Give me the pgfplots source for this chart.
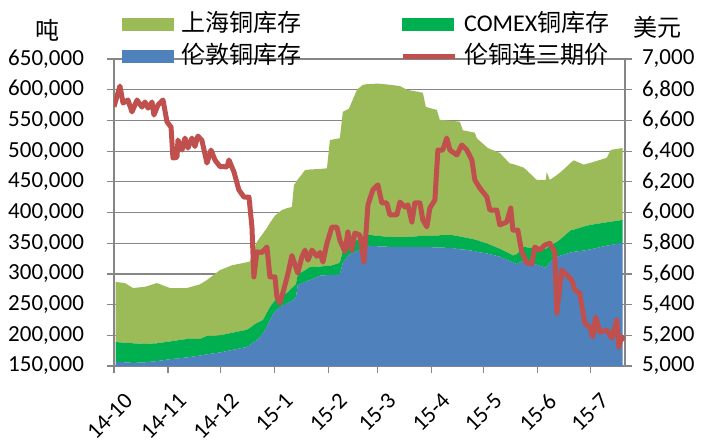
\documentclass[border=0pt]{standalone}
\usepackage{fontspec}
\setmainfont{Carlito}
\newfontfamily\cjk{Noto Sans CJK SC}
\usepackage{pgfplots}
\usepackage{pgfplotstable}
\pgfplotsset{compat=1.18}

\definecolor{shfe}{HTML}{9BBB59}
\definecolor{comex}{HTML}{00B050}
\definecolor{lme}{HTML}{4F81BD}
\definecolor{cuprice}{HTML}{C0504D}
\definecolor{gridgray}{HTML}{868686}

% days since 2014-10-01, stocks in tonnes
\pgfplotstableread{
d lme comex shfe
1.0 157000 32000 98000
6.3 156000 32000 97000
10.9 155000 32000 90000
17.8 156000 30000 93000
24.6 158000 29000 98000
32.1 161000 29000 87000
41.8 164000 30000 83000
49.3 167000 27000 89000
53.3 169000 30000 91000
57.9 171000 28000 101000
60.7 172000 28000 106000
67.6 176000 28000 110000
76.2 181000 28000 110000
77.9 184000 28000 108000
80.2 189000 28000 123000
81.9 192000 28000 132000
85.4 203000 22000 141000
87.7 214000 23000 138000
89.4 225000 21000 137000
92.3 239000 18000 138000
96.3 248000 16000 140000
99.1 252000 17000 138000
102.0 256000 21000 132000
103.2 259000 21000 165000
104.3 262000 21000 166000
105.4 282000 18000 154000
106.6 283000 18000 157000
109.5 287000 19000 163000
112.3 290000 21000 159000
118.1 297000 15000 159000
122.1 298000 15000 159000
123.8 298000 15000 205000
129.5 299000 19000 203000
131.2 318000 20000 226000
134.7 331000 17000 221000
139.3 337000 18000 245000
142.7 342000 18000 248000
145.0 346000 18000 245000
151.3 345000 17000 248000
158.2 344000 16000 248000
163.9 344000 16000 246000
167.9 344000 16000 240000
177.1 344000 18000 233000
178.8 344000 18000 210000
185.1 343000 19000 205000
186.8 343000 20000 188000
194.3 342000 21000 186000
198.3 340000 21000 187000
200.0 340000 20000 174000
206.9 337000 19000 174000
208.0 336000 19000 166000
214.3 333000 16000 156000
221.2 328000 13000 156000
226.9 321000 12000 147000
228.7 319000 11000 149000
230.9 316000 16000 145000
235.0 322000 22000 129000
242.4 315000 26000 112000
247.6 310000 31000 112000
248.1 312000 30000 124000
249.9 319000 26000 108000
253.9 328000 24000 109000
256.2 330000 27000 109000
261.9 335000 36000 110000
263.6 336000 36000 113000
269.3 338000 39000 101000
273.4 340000 40000 101000
282.5 346000 38000 105000
284.8 347000 38000 117000
291.7 351000 37000 117000
}\stocks

% LME 3-month copper, USD/t
\pgfplotstableread{
d price
0 6689
3.4 6824
5.2 6713
8.0 6733
10.3 6655
13.2 6733
16.0 6687
17.8 6720
19.5 6680
21.8 6720
22.9 6635
25.2 6700
28.1 6733
30.4 6590
32.7 6557
33.8 6355
36.1 6360
36.7 6472
39.0 6407
40.7 6485
42.4 6420
44.7 6485
46.4 6430
48.1 6498
50.4 6470
53.3 6322
55.6 6407
57.9 6342
60.7 6300
64.8 6297
65.9 6342
68.8 6264
71.6 6147
74.5 6101
77.4 6100
79.1 5905
80.2 5580
81.9 5743
84.8 5740
87.7 5775
89.4 5580
92.3 5580
93.4 5450
95.1 5410
97.4 5500
99.7 5600
102.0 5720
105.4 5605
107.7 5710
109.5 5755
111.2 5690
113.5 5755
116.3 5715
118.1 5740
119.8 5677
122.1 5800
124.9 5905
127.8 5905
129.5 5820
132.4 5745
134.1 5873
136.4 5755
138.1 5866
141.0 5853
143.3 5677
145.6 6049
148.4 6147
151.3 6180
153.6 6062
156.4 6062
158.2 5984
162.2 5984
163.9 6068
166.8 6036
168.5 6050
170.8 5938
172.5 6062
175.4 6062
177.1 5951
179.4 5906
181.1 6029
184.0 6081
185.7 6407
188.5 6407
190.8 6485
192.6 6407
196.6 6375
199.4 6440
202.3 6407
205.2 6342
206.9 6212
209.7 6160
213.8 6101
215.5 6016
219.5 6016
221.2 5919
225.2 5938
227.5 6029
228.7 5886
231.5 5886
233.8 5743
236.7 5671
239.5 5665
241.3 5775
244.1 5755
247.0 5788
249.9 5800
252.7 5743
253.9 5345
256.7 5625
259.6 5593
262.5 5560
264.2 5495
267.0 5475
269.9 5280
272.8 5254
274.5 5190
276.2 5319
278.5 5221
282.5 5234
285.4 5182
288.3 5300
289.4 5124
291.1 5190
292.8 5170
}\price

\pgfplotsset{
  chartbase/.style={
    scale only axis, width=255.5pt, height=153.5pt,
    xmin=0, xmax=293,
    tick align=outside, major tick length=3.5pt,
    tick style={draw=gridgray, line width=0.6pt},
    axis line style={draw=gridgray, line width=0.6pt},
    every tick label/.append style={font=\fontsize{11.5}{13}\selectfont},
    /pgf/number format/assume math mode=true,
    /pgf/number format/fixed,
    /pgf/number format/1000 sep={,},
  },
  swatch/.style={legend image code/.code={\fill[#1] (0pt,-3.2pt) rectangle (25.5pt,3.2pt);}},
  redswatch/.style={legend image code/.code={\draw[cuprice, line width=2.5pt] (0pt,0pt) -- (26pt,0pt);}},
}

\begin{document}
\begin{tikzpicture}
\begin{axis}[
  chartbase,
  name=main,
  ymin=150000, ymax=650000,
  ytick={150000,200000,...,650000},
  scaled y ticks=false,
  yticklabel style={xshift=-8pt},
  xtick={0,31,61,92,123,151,182,212,243,273},
  xticklabels={14-10,14-11,14-12,15-1,15-2,15-3,15-4,15-5,15-6,15-7},
  xticklabel style={rotate=45, anchor=north east, xshift=0pt, yshift=-6.5pt},
  ytick pos=left, xtick pos=bottom,
  ymajorgrids, grid style={draw=gridgray, line width=0.6pt},
  stack plots=y,
]
\addplot[fill=lme, draw=none] table[x=d, y=lme]{\stocks} \closedcycle;
\addplot[fill=comex, draw=none] table[x=d, y=comex]{\stocks} \closedcycle;
\addplot[fill=shfe, draw=none] table[x=d, y=shfe]{\stocks} \closedcycle;
\end{axis}

\begin{axis}[
  chartbase,
  ymin=5000, ymax=7000,
  ytick={5000,5200,...,7000},
  yticklabel style={xshift=1.5pt},
  xtick=\empty,
  ytick pos=right,
  axis line style={draw=none},
  legend columns=2,
  legend cell align=left,
  legend style={at={(0.0157,1.166)}, anchor=north west, draw=none, fill=none,
    inner sep=0pt, row sep=0pt,
    font=\fontsize{12}{14}\selectfont,
    nodes={inner ysep=2pt, inner xsep=3.5pt, text height=9.5pt, text depth=2.5pt},
    /tikz/every even column/.append style={column sep=46pt}},
]
\addlegendimage{swatch=shfe}
\addlegendentry{\cjk 上海铜库存}
\addlegendimage{swatch=comex}
\addlegendentry{COMEX{\cjk 铜库存}}
\addlegendimage{swatch=lme}
\addlegendentry{\cjk 伦敦铜库存}
\addplot[cuprice, line width=2.5pt, line join=round, redswatch]
  table[x=d, y=price]{\price};
\addlegendentry{\cjk 伦铜连三期价}
\end{axis}

% axis unit labels above the two y axes
\node[font=\fontsize{12}{14}\selectfont\cjk] at ([xshift=-33pt,yshift=14.5pt]main.north west) {吨};
\node[font=\fontsize{12}{14}\selectfont\cjk] at ([xshift=16.2pt,yshift=15.8pt]main.north east) {美元};

\pgfresetboundingbox
\path[use as bounding box] ([xshift=-57pt,yshift=-36.5pt]main.south west) rectangle ([xshift=40pt,yshift=29.5pt]main.north east);
\end{tikzpicture}
\end{document}
